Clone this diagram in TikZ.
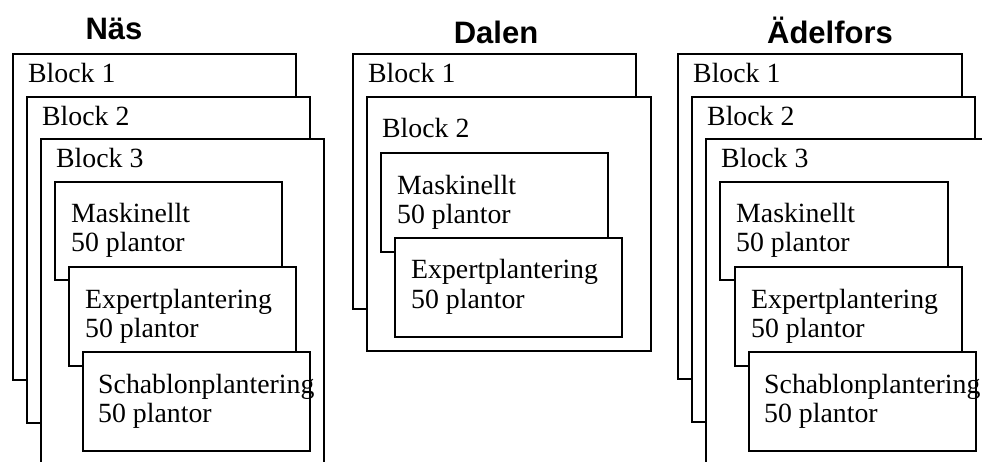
\documentclass[tikz,border=0pt]{standalone}
\usepackage{fontspec}
\setmainfont{Liberation Serif}
\newfontfamily\titlefont{Liberation Sans}
\newcommand{\twolines}[2]{\begin{tabular}[t]{@{}l@{}}#1\\#2\end{tabular}}
\tikzset{
  box/.style={draw=black, fill=white, line width=2.4pt, rectangle, outer sep=0pt, inner sep=0pt, anchor=north west},
  blk/.style={box, minimum width=283pt},
  sub/.style={box, minimum width=227pt, minimum height=99pt},
  lbl/.style={anchor=base west, inner sep=0pt, font=\fontsize{27.8}{29}\selectfont},
  ttl/.style={anchor=base, inner sep=0pt, font=\titlefont\bfseries\fontsize{31}{31}\selectfont}
}
\begin{document}
\begin{tikzpicture}[x=1pt,y=-1pt]
\useasboundingbox (0,0) rectangle (982,462);
% ---------- Näs ----------
\node[ttl] (tN) at (114,40) {Näs};
\node[blk, minimum height=326pt] (N1) at (13,54) {};
\node[lbl] (N1t) at ([xshift=15pt,yshift=-28.5pt]N1.north west) {Block 1};
\node[blk, minimum height=326pt] (N2) at (27,97) {};
\node[lbl] (N2t) at ([xshift=15pt,yshift=-28.5pt]N2.north west) {Block 2};
\node[blk, minimum height=360pt] (N3) at (41,139) {};
\node[lbl] (N3t) at ([xshift=15pt,yshift=-28.5pt]N3.north west) {Block 3};
\node[sub, minimum height=98pt] (NM) at (55,182) {};
\node[lbl] (NMt) at ([xshift=16pt,yshift=-41pt]NM.north west) {\twolines{Maskinellt}{50 plantor}};
\node[sub] (NE) at (69,267) {};
\node[lbl] (NEt) at ([xshift=16pt,yshift=-41.5pt]NE.north west) {\twolines{Expertplantering}{50 plantor}};
\node[sub] (NS) at (83,352) {};
\node[lbl] (NSt) at ([xshift=15pt,yshift=-41pt]NS.north west) {\twolines{Schablonplantering}{50 plantor}};
% ---------- Dalen ----------
\node[ttl] (tD) at (496,44) {Dalen};
\node[blk, minimum height=255pt] (D1) at (353,54) {};
\node[lbl] (D1t) at ([xshift=15pt,yshift=-28.5pt]D1.north west) {Block 1};
\node[blk, minimum width=284pt, minimum height=254pt] (D2) at (367,97) {};
\node[lbl] (D2t) at ([xshift=15pt,yshift=-41pt]D2.north west) {Block 2};
\node[sub] (DM) at (381,153) {};
\node[lbl] (DMt) at ([xshift=16pt,yshift=-42pt]DM.north west) {\twolines{Maskinellt}{50 plantor}};
\node[sub] (DE) at (395,238) {};
\node[lbl] (DEt) at ([xshift=16pt,yshift=-41pt]DE.north west) {\twolines{Expertplantering}{50 plantor}};
% ---------- Ädelfors ----------
\node[ttl] (tA) at (830,44) {Ädelfors};
\node[blk, minimum width=284pt, minimum height=325pt] (A1) at (678,54) {};
\node[lbl] (A1t) at ([xshift=15pt,yshift=-28.5pt]A1.north west) {Block 1};
\node[blk, minimum height=325pt] (A2) at (692,97) {};
\node[lbl] (A2t) at ([xshift=15pt,yshift=-28.5pt]A2.north west) {Block 2};
\node[blk, minimum height=360pt] (A3) at (706,139) {};
\node[lbl] (A3t) at ([xshift=15pt,yshift=-28.5pt]A3.north west) {Block 3};
\node[sub, minimum width=228pt, minimum height=98pt] (AM) at (720,182) {};
\node[lbl] (AMt) at ([xshift=16pt,yshift=-41pt]AM.north west) {\twolines{Maskinellt}{50 plantor}};
\node[sub] (AE) at (735,267) {};
\node[lbl] (AEt) at ([xshift=16pt,yshift=-41.5pt]AE.north west) {\twolines{Expertplantering}{50 plantor}};
\node[sub] (AS) at (749,352) {};
\node[lbl] (ASt) at ([xshift=15pt,yshift=-41pt]AS.north west) {\twolines{Schablonplantering}{50 plantor}};
\end{tikzpicture}
\end{document}
